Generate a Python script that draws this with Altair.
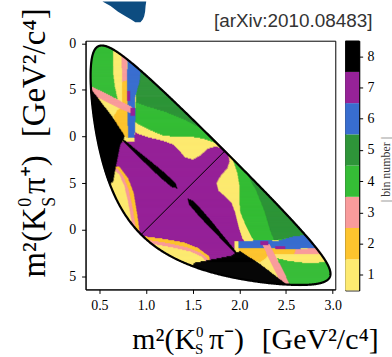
import numpy as np
import pandas as pd
import altair as alt

# ---------------- values ----------------
M_D, M_K, M_PI = 1.86484, 0.497611, 0.13957
x_ticks = [0.5, 1.0, 1.5, 2.0, 2.5, 3.0]
y_ticks = [0.5, 1.0, 1.5, 2.0, 2.5, 3.0]
bin_numbers = [1, 2, 3, 4, 5, 6, 7, 8]
bin_colors = ["#fdea70", "#fdc42e", "#f99b9b", "#35bd36", "#2e9539", "#386dcf", "#962298", "#000000"]
diag_ends = [0.947, 1.843]

# fragment of the neighbouring figure visible above the panel (same axis units)
blob_y = [3.449, 3.40, 3.34, 3.29, 3.255, 3.225]
blob_xl = [0.533, 0.62, 0.70, 0.78, 0.84, 0.885]
blob_xr = [1.002, 0.995, 0.99, 0.98, 0.965, 0.94]

# bin regions in the half m2(KS pi-) >= m2(KS pi+); the other half is its mirror image
# painter order: later regions cover earlier ones; everything else is bin 7
yellow_band_x = [1.875, 1.875, 1.896, 1.875, 1.801, 1.758, 1.780, 1.854, 1.918, 1.961, 1.993, 2.035, 2.099, 3.112, 3.112]
yellow_band_y = [1.954, 1.869, 1.741, 1.667, 1.582, 1.507, 1.422, 1.359, 1.295, 1.178, 1.039, 0.912, 0.827, 0.827, 1.954]
green_x = [1.929, 1.929, 1.939, 1.982, 2.003, 2.003, 2.014, 2.067, 2.131, 2.184, 3.112, 3.112]
green_y = [1.954, 1.869, 1.741, 1.614, 1.486, 1.316, 1.189, 1.061, 0.933, 0.848, 0.848, 1.954]
dkgreen_x = [2.035, 2.035, 2.099, 2.184, 2.270, 2.334, 2.376, 2.632, 2.803, 3.112, 3.112]
dkgreen_y = [1.954, 1.688, 1.582, 1.422, 1.210, 0.997, 0.890, 0.933, 0.933, 0.997, 1.954]
ystrip_x = [1.950, 2.632, 3.112, 3.112, 2.547, 2.547, 1.950]
ystrip_y = [0.880, 0.901, 0.901, 0.572, 0.572, 0.252, 0.252]
blue_x = [1.993, 2.227, 2.419, 2.590, 2.782, 2.910, 2.888, 2.526, 1.993]
blue_y = [0.880, 0.890, 0.885, 0.933, 0.954, 0.890, 0.805, 0.799, 0.810]
orange_x = [1.993, 2.611, 2.590, 2.312, 2.291, 2.227, 2.014]
orange_y = [0.810, 0.799, 0.745, 0.747, 0.699, 0.657, 0.710]
pinkstrip_x = [2.611, 2.952, 2.973, 2.590]
pinkstrip_y = [0.799, 0.805, 0.742, 0.745]
greenbot_x = [2.408, 2.526, 2.696, 3.112, 3.112, 2.547, 2.526, 2.451]
greenbot_y = [0.699, 0.671, 0.649, 0.656, 0.252, 0.252, 0.380, 0.593]
pinkstripe_x = [2.248, 2.323, 2.376, 2.451, 2.547, 2.472, 2.376, 2.302]
pinkstripe_y = [0.854, 0.854, 0.748, 0.609, 0.412, 0.391, 0.582, 0.731]
speck1_x = [2.227, 2.312, 2.312, 2.227]
speck1_y = [0.885, 0.885, 0.837, 0.837]
speck2_x = [2.387, 2.493, 2.493, 2.387]
speck2_y = [0.832, 0.832, 0.800, 0.800]
cres_or_x = [0.990, 1.193, 1.406, 1.560, 1.680, 1.700, 1.700, 0.990]
cres_or_y = [0.933, 0.906, 0.869, 0.810, 0.720, 0.600, 0.252, 0.252]
cres_pk_x = [1.044, 1.246, 1.440, 1.580, 1.660, 1.680, 1.044]
cres_pk_y = [0.890, 0.859, 0.815, 0.760, 0.700, 0.252, 0.252]
cres_ye_x = [1.097, 1.300, 1.480, 1.600, 1.650, 1.660, 1.097]
cres_ye_y = [0.848, 0.811, 0.770, 0.715, 0.660, 0.252, 0.252]
black_x = [1.470, 1.520, 1.726, 1.918, 1.971, 2.014, 2.227, 2.504, 2.547, 1.470]
black_y = [0.571, 0.650, 0.688, 0.726, 0.763, 0.773, 0.635, 0.422, 0.252, 0.252]
slash_x = [1.449, 1.507, 1.610, 1.731, 1.850, 1.969, 1.971, 1.953, 1.821, 1.689, 1.559, 1.462]
slash_y = [1.339, 1.318, 1.208, 1.063, 0.916, 0.770, 0.747, 0.756, 0.891, 1.026, 1.163, 1.279]

regions = [
    (1, yellow_band_x, yellow_band_y), (4, green_x, green_y), (5, dkgreen_x, dkgreen_y),
    (1, ystrip_x, ystrip_y), (6, blue_x, blue_y), (2, orange_x, orange_y),
    (3, pinkstrip_x, pinkstrip_y), (4, greenbot_x, greenbot_y), (3, pinkstripe_x, pinkstripe_y),
    (7, speck1_x, speck1_y), (7, speck2_x, speck2_y),
    (2, cres_or_x, cres_or_y), (3, cres_pk_x, cres_pk_y), (1, cres_ye_x, cres_ye_y),
    (8, black_x, black_y), (8, slash_x, slash_y),
]

# ---------------- geometry helpers ----------------
def ylims(X):
    sX = np.sqrt(X)
    E1 = (X + M_K**2 - M_PI**2) / (2 * sX)
    E3 = (M_D**2 - X - M_PI**2) / (2 * sX)
    p1 = np.sqrt(np.clip(E1**2 - M_K**2, 0, None))
    p3 = np.sqrt(np.clip(E3**2 - M_PI**2, 0, None))
    s = (E1 + E3) ** 2
    return s - (p1 + p3) ** 2, s - (p1 - p3) ** 2

def in_poly(px, py, xs, ys):
    res = np.zeros(px.shape, bool)
    n = len(xs)
    j = n - 1
    for i in range(n):
        xi, yi, xj, yj = xs[i], ys[i], xs[j], ys[j]
        cross = (yi > py) != (yj > py)
        xint = (xj - xi) * (py - yi) / ((yj - yi) if yj != yi else 1e-12) + xi
        res ^= cross & (px < xint)
        j = i
    return res

xmin, xmax = (M_K + M_PI) ** 2, (M_D - M_PI) ** 2
xdom, ydom = [0.352, 3.028], [0.358, 3.028]
W, H = 251, 250
dy = (ydom[1] - ydom[0]) / H
dx = (xdom[1] - xdom[0]) / W / 2
yc = np.arange(ydom[0] + dy / 2, ydom[1], dy)
xc = np.arange(xdom[0] + dx / 2, xdom[1], dx)
XX, YY = np.meshgrid(xc, yc)
lo, hi = ylims(np.clip(XX, xmin, xmax))
inside = (XX > xmin) & (XX < xmax) & (YY > lo) & (YY < hi)
A = np.maximum(XX, YY)
B = np.minimum(XX, YY)
binmap = np.full(XX.shape, 7, int)
for b, xs, ys in regions:
    binmap[in_poly(A, B, xs, ys)] = b
binmap[~inside] = 0

rows = []
for r in range(len(yc)):
    line = binmap[r]
    c = 0
    n = len(line)
    while c < n:
        v = line[c]
        s = c
        while c < n and line[c] == v:
            c += 1
        if v > 0:
            rows.append({"x": xc[s] - dx / 2 - dx * 0.3, "x2": xc[c - 1] + dx / 2 + dx * 0.3,
                         "y": yc[r] - dy / 2 - dy * 0.3, "y2": yc[r] + dy / 2 + dy * 0.3, "bin": int(v)})
cells = pd.DataFrame(rows)

t = np.linspace(0, np.pi, 500)
bx = xmin + (xmax - xmin) * (1 - np.cos(t)) / 2
blo, bhi = ylims(bx)
bound = pd.DataFrame({
    "x": np.concatenate([bx, bx[::-1]]),
    "y": np.concatenate([blo, bhi[::-1]]),
})
bound["o"] = np.arange(len(bound))
diag = pd.DataFrame({"x": diag_ends, "y": diag_ends})
blob = pd.DataFrame({"y": blob_y, "x": blob_xl, "x2": blob_xr})

cscale = alt.Scale(domain=bin_numbers, range=bin_colors)
xs_ = alt.Scale(domain=xdom, nice=False, zero=False)
ys_ = alt.Scale(domain=ydom, nice=False, zero=False)

serif = "Liberation Serif"
xaxis = alt.Axis(values=x_ticks, format=".1f", title=None, labelFont=serif, labelFontSize=14,
                 tickSize=4, labelPadding=5, grid=False, labelColor="black", tickColor="black", domainColor="black")
yaxis = alt.Axis(values=y_ticks, format=".1f", title=None, labelFont=serif, labelFontSize=14,
                 tickSize=4, labelPadding=6, grid=False, labelExpr="slice(datum.label, -1)",
                 labelColor="black", tickColor="black", domainColor="black")

rects = alt.Chart(cells).mark_rect(strokeWidth=0.4).encode(
    x=alt.X("x:Q", scale=xs_, axis=xaxis), x2="x2", y=alt.Y("y:Q", scale=ys_, axis=yaxis), y2="y2",
    color=alt.Color("bin:O", scale=cscale, legend=None),
    stroke=alt.Stroke("bin:O", scale=cscale, legend=None))
diag_line = alt.Chart(diag).mark_line(color="black", strokeWidth=1).encode(
    x=alt.X("x:Q", scale=xs_), y=alt.Y("y:Q", scale=ys_))
bound_line = alt.Chart(bound).mark_line(color="black", strokeWidth=2.2).encode(
    x=alt.X("x:Q", scale=xs_), y=alt.Y("y:Q", scale=ys_), order="o:Q")
blob_area = alt.Chart(blob).mark_area(orient="horizontal", color="#0d4c80").encode(
    y=alt.Y("y:Q", scale=ys_), x=alt.X("x:Q", scale=xs_), x2="x2")

def txt(s, x, y, size, angle=0, align="left", font=serif, col="black"):
    return alt.Chart(pd.DataFrame({"t": [s]})).mark_text(
        align=align, baseline="alphabetic", fontSize=size, font=font, angle=angle, color=col
    ).encode(x=alt.value(x), y=alt.value(y), text="t:N")

# x axis title pieces (relative to plot area origin)
x_title = [
    txt("m²(K", 47, 310, 30), txt("0", 111, 297.5, 15), txt("S", 110, 315, 15),
    txt("π⁻)", 124, 310, 30), txt("[GeV²/c⁴]", 177, 310, 30),
]
# y axis title pieces, rotated to read upwards
y_title = [
    txt("m²(K", -41, 238, 33, angle=270), txt("0", -55, 167, 18, angle=270),
    txt("S", -31, 167, 18, angle=270), txt("π⁺)", -41, 154, 33, angle=270),
    txt("[GeV²/c⁴]", -41, 97, 33, angle=270),
]
arx = txt("[arXiv:2010.08483]", 129, -14, 19, font="Liberation Sans", col="#333333")

main = alt.layer(rects, diag_line, bound_line, blob_area, *x_title, *y_title, arx).properties(width=W, height=H)

cb_df = pd.DataFrame({"bin": bin_numbers, "lo": [b - 0.5 for b in bin_numbers], "hi": [b + 0.5 for b in bin_numbers]})
cbar = alt.Chart(cb_df).mark_rect().encode(
    x=alt.value(0), x2=alt.value(14),
    y=alt.Y("lo:Q", scale=alt.Scale(domain=[0.5, 8.5], nice=False, zero=False),
            axis=alt.Axis(orient="right", values=bin_numbers, format="d", title="| bin number |",
                          titleAngle=270, titleFont=serif, titleFontSize=12, titleFontWeight="normal",
                          titleX=21, titleY=129, titleBaseline="top", titleAlign="center",
                          labelFont=serif, labelFontSize=14, tickSize=3.5, labelPadding=4.5, grid=False,
                          labelColor="black", tickColor="black", domainColor="black", titleColor="#333333")),
    y2="hi:Q", color=alt.Color("bin:O", scale=cscale, legend=None),
).properties(width=14, height=251)

chart = alt.hconcat(main, cbar, spacing=10, bounds="flush").properties(
    padding={"left": 16, "top": 0, "right": 0, "bottom": 0}
).configure_view(stroke="black", strokeWidth=1)

chart.save("out.html", embed_options={"renderer": "svg", "actions": False})
